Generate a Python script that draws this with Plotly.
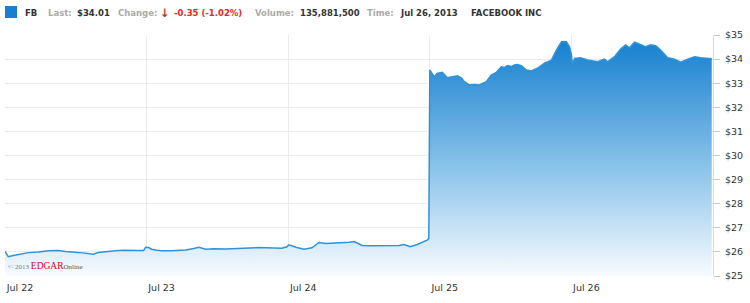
import plotly.graph_objects as go

# ---- data: position in trading sessions since Jul 22 open (1.0 = one session), price in USD
session_pos = [0.0, 0.023, 0.059, 0.094, 0.165, 0.236, 0.306, 0.377, 0.427, 0.519, 0.568, 0.625,
               0.660, 0.731, 0.781, 0.837, 0.894, 0.943, 0.979, 0.993, 1.014, 1.035, 1.071, 1.106,
               1.177, 1.226, 1.276, 1.333, 1.368, 1.418, 1.474, 1.559, 1.651, 1.743, 1.793, 1.842,
               1.899, 1.955, 1.991, 2.005, 2.055, 2.111, 2.168, 2.217, 2.267, 2.309, 2.380, 2.430,
               2.465, 2.500, 2.522, 2.592, 2.691, 2.734, 2.783, 2.819, 2.861, 2.911, 2.960, 2.981,
               2.993,
               3.0, 3.010, 3.031, 3.052, 3.088, 3.124, 3.159, 3.195, 3.223, 3.244, 3.279, 3.314,
               3.350, 3.378, 3.399, 3.434, 3.470, 3.505, 3.527, 3.548, 3.576, 3.597, 3.619, 3.647,
               3.682, 3.717, 3.760, 3.810, 3.859, 3.895, 3.930, 3.965, 3.987, 4.0,
               4.008, 4.022, 4.064, 4.114, 4.185, 4.234, 4.255, 4.305, 4.347, 4.383, 4.411, 4.446,
               4.482, 4.524, 4.560, 4.595, 4.630, 4.680, 4.729, 4.772, 4.822, 4.871, 4.913, 4.963,
               4.991]
price = [26.02, 25.80, 25.85, 25.89, 25.97, 26.00, 26.05, 26.06, 26.02, 25.98, 25.94, 25.90,
         25.98, 26.03, 26.05, 26.07, 26.08, 26.06, 26.06, 26.19, 26.18, 26.11, 26.07, 26.05,
         26.05, 26.06, 26.08, 26.14, 26.19, 26.11, 26.13, 26.12, 26.15, 26.19, 26.18, 26.17,
         26.16, 26.15, 26.21, 26.29, 26.19, 26.11, 26.17, 26.39, 26.35, 26.36, 26.37, 26.40,
         26.43, 26.35, 26.27, 26.26, 26.26, 26.24, 26.27, 26.31, 26.22, 26.31, 26.42, 26.49,
         26.55,
         33.55, 33.46, 33.27, 33.41, 33.45, 33.23, 33.27, 33.31, 33.22, 33.06, 32.93, 32.95,
         32.93, 32.99, 33.06, 33.34, 33.45, 33.68, 33.65, 33.73, 33.69, 33.76, 33.78, 33.73,
         33.55, 33.51, 33.62, 33.83, 33.96, 34.38, 34.72, 34.72, 34.51, 34.17,
         33.76, 34.03, 34.06, 33.96, 33.89, 34.00, 33.89, 34.10, 34.42, 34.59, 34.47, 34.70,
         34.61, 34.51, 34.59, 34.56, 34.38, 34.06, 34.00, 33.87, 34.00, 34.10, 34.06, 34.03,
         34.01]

day_labels = ["Jul 22", "Jul 23", "Jul 24", "Jul 25", "Jul 26"]
price_ticks = [25, 26, 27, 28, 29, 30, 31, 32, 33, 34, 35]
price_tick_text = ["$%d" % v for v in price_ticks]

ticker = "FB"
last_price = "$34.01"
change_text = "-0.35 (-1.02%)"
volume_text = "135,881,500"
time_text = "Jul 26, 2013"
company = "FACEBOOK INC"

# ---- layout geometry (pixels)
W, H = 750, 303
L, R, T, B = 5, 37, 35, 27
pw = W - L - R
ph = H - T - B

def px_x(px):
    return (px - L) / pw

def px_y(py):
    return (H - B - py) / ph

fig = go.Figure()
fig.add_trace(go.Scatter(
    x=session_pos, y=price, mode="lines",
    line=dict(color="#2f93d8", width=1.5),
    fill="tozeroy",
    fillgradient=dict(type="vertical",
                      colorscale=[[0, "#f8fbfe"], [0.45, "#8cc4ea"], [1, "#1580cf"]],
                      start=25, stop=34.8),
    hoverinfo="skip", showlegend=False,
))

fig.update_layout(
    width=W, height=H,
    margin=dict(l=L, r=R, t=T, b=B),
    paper_bgcolor="white", plot_bgcolor="white",
    font=dict(family="DejaVu Sans", size=10, color="#333"),
    xaxis=dict(range=[0, 5], tickvals=list(range(len(day_labels))), ticktext=day_labels,
               showgrid=True, gridcolor="#ececec", gridwidth=1, zeroline=False,
               ticks="", showline=False, ticklabelshift=15, ticklabelstandoff=4,
               tickfont=dict(family="DejaVu Sans", size=9.5, color="#333")),
    yaxis=dict(range=[25, 35], side="right", tickvals=price_ticks, ticktext=price_tick_text,
               showgrid=True, gridcolor="#ececec", gridwidth=1, zeroline=False,
               ticks="outside", ticklen=6, tickcolor="#c8c8c8",
               showline=True, linecolor="#dcdcdc", linewidth=1,
               ticklabelstandoff=3,
               tickfont=dict(family="DejaVu Sans", size=9.5, color="#333")),
)

# header square
fig.add_shape(type="rect", xref="paper", yref="paper",
              x0=px_x(5), x1=px_x(17), y0=px_y(18), y1=px_y(6),
              fillcolor="#1a7fd0", line=dict(width=0))

header = [
    (23, ticker, "#333", 8.5),
    (46, "Last:", "#aaaaaa", 8.5),
    (75, last_price, "#333", 8.5),
    (116, "Change:", "#aaaaaa", 8.5),
    (158, "\u2193", "#b83222", 11.5),
    (172, change_text, "#e8261e", 8.5),
    (253, "Volume:", "#aaaaaa", 8.5),
    (298, volume_text, "#333", 8.5),
    (365, "Time:", "#aaaaaa", 8.5),
    (398, time_text, "#333", 8.5),
    (469, company, "#333", 8.5),
]
for px, txt, col, sz in header:
    fig.add_annotation(xref="paper", yref="paper", x=px_x(px), y=px_y(12.5),
                       xanchor="left", yanchor="middle", showarrow=False,
                       text="<b>%s</b>" % txt,
                       font=dict(family="DejaVu Sans", size=sz, color=col))

# watermark
fig.add_annotation(xref="paper", yref="paper", x=px_x(6), y=px_y(266),
                   xanchor="left", yanchor="middle", showarrow=False,
                   text='<span style="color:#777;font-size:7px">\u00a9 2013 </span>'
                        '<span style="color:#d0021b;font-size:9.5px">EDGAR</span>'
                        '<span style="color:#555;font-size:7px">Online</span>',
                   font=dict(family="Liberation Serif", size=7, color="#777"))

fig.write_html("out.html")
